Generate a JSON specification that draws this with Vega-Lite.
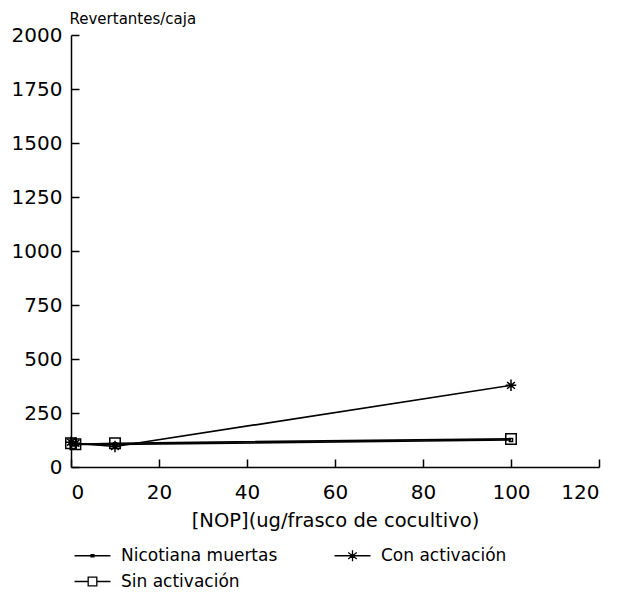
{
  "$schema": "https://vega.github.io/schema/vega-lite/v6.json",
  "width": 528,
  "height": 432,
  "autosize": {"type": "none"},
  "padding": {"left": 71, "top": 35, "right": 19, "bottom": 127},
  "background": "white",
  "config": {
    "view": {"stroke": null},
    "font": "DejaVu Sans",
    "axis": {"grid": false, "domainColor": "black", "tickColor": "black", "labelColor": "black", "titleColor": "black", "domainWidth": 1.5, "tickWidth": 1.5, "labelFont": "DejaVu Sans", "titleFont": "DejaVu Sans", "titleFontWeight": "normal", "format": "d"},
    "legend": {"labelFont": "DejaVu Sans"}
  },
  "data": {"values": [
    {"x": 0, "y": 110, "series": "Nicotiana muertas"},
    {"x": 1, "y": 105, "series": "Nicotiana muertas"},
    {"x": 10, "y": 105, "series": "Nicotiana muertas"},
    {"x": 100, "y": 125, "series": "Nicotiana muertas"},
    {"x": 0, "y": 115, "series": "Con activación"},
    {"x": 1, "y": 110, "series": "Con activación"},
    {"x": 10, "y": 95, "series": "Con activación"},
    {"x": 100, "y": 378, "series": "Con activación"},
    {"x": 0, "y": 110, "series": "Sin activación"},
    {"x": 1, "y": 105, "series": "Sin activación"},
    {"x": 10, "y": 110, "series": "Sin activación"},
    {"x": 100, "y": 130, "series": "Sin activación"}
  ]},
  "encoding": {
    "x": {"field": "x", "type": "quantitative", "scale": {"domain": [0, 120], "nice": false},
      "axis": {"values": [0, 20, 40, 60, 80, 100, 120], "format": "d", "title": "[NOP](ug/frasco de cocultivo)", "labelFontSize": 20, "titleFontSize": 19.5, "tickSize": -8, "labelPadding": 23, "titlePadding": 9}},
    "y": {"field": "y", "type": "quantitative", "scale": {"domain": [0, 2000], "nice": false},
      "axis": {"values": [0, 250, 500, 750, 1000, 1250, 1500, 1750, 2000], "format": "d", "title": "Revertantes/caja", "labelFontSize": 20, "titleFontSize": 15, "tickSize": -8, "labelPadding": 17, "titleAngle": 0, "titleX": -2, "titleY": -12, "titleAlign": "left", "titleBaseline": "alphabetic"}}
  },
  "layer": [
    {"mark": {"type": "line", "color": "black", "strokeWidth": 1.7}, "encoding": {"detail": {"field": "series"}}},
    {"mark": {"type": "point", "color": "black", "filled": false, "strokeWidth": 1.5, "opacity": 1},
      "encoding": {"shape": {"field": "series", "type": "nominal",
        "scale": {"domain": ["Nicotiana muertas", "Con activación", "Sin activación"],
          "range": ["M-0.3,-0.3H0.3V0.3H-0.3Z", "M-1,0H1M0,-1.1V1.1M-0.75,-0.65L0.75,0.65M-0.75,0.65L0.75,-0.65", "M-1,-1H1V1H-1Z"]},
        "legend": null},
        "size": {"value": 110}}},
    {"mark": {"type": "point", "color": "black", "filled": false, "opacity": 0},
      "encoding": {"shape": {"field": "series", "type": "nominal",
        "scale": {"domain": ["Nicotiana muertas", "Con activación", "Sin activación"],
          "range": ["M-2.5,0H2.5M-0.2,-0.15H0.2V0.15H-0.2Z", "M-2.5,0H-0.1M0.1,0H2.5M0,-0.75V0.75M-0.6,-0.45L0.6,0.45M-0.6,0.45L0.6,-0.45", "M-2.5,0H-0.6M0.6,0H2.5M-0.6,-0.6H0.6V0.6H-0.6Z"]},
        "legend": {"title": null, "orient": "none", "legendX": 13, "legendY": 512, "direction": "horizontal", "columns": 2, "columnPadding": 53, "rowPadding": 8, "labelFontSize": 17, "labelOffset": 20, "symbolSize": 207, "symbolOpacity": 1, "symbolStrokeColor": "black", "symbolFillColor": "transparent", "symbolStrokeWidth": 1.3, "labelColor": "black", "padding": 0}},
        "size": {"value": 207}}}
  ],
  "resolve": {"scale": {"shape": "independent"}, "legend": {"shape": "independent"}}
}
